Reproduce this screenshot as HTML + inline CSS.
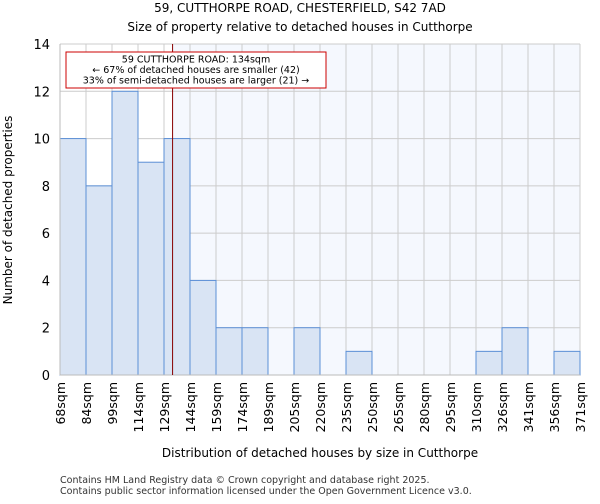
<!DOCTYPE html>
<html><head><meta charset="utf-8"><style>
body{margin:0;background:#fff;font-family:"DejaVu Sans","Liberation Sans",sans-serif;}
</style></head><body>
<svg id="chart" width="600" height="500" xmlns="http://www.w3.org/2000/svg" font-family="DejaVu Sans, Liberation Sans, sans-serif">
<text x="300" y="12" font-size="12" text-anchor="middle" fill="#000">59, CUTTHORPE ROAD, CHESTERFIELD, S42 7AD</text>
<text x="300" y="31" font-size="12" text-anchor="middle" fill="#000">Size of property relative to detached houses in Cutthorpe</text>
<g id="plot"></g>
<text x="320" y="457" font-size="12" text-anchor="middle">Distribution of detached houses by size in Cutthorpe</text>
<text transform="translate(12,210) rotate(-90)" font-size="12" text-anchor="middle">Number of detached properties</text>
<text x="60" y="483" font-size="9.5" fill="#333">Contains HM Land Registry data © Crown copyright and database right 2025.</text>
<text x="60" y="494" font-size="9.5" fill="#333">Contains public sector information licensed under the Open Government Licence v3.0.</text>
</svg>
<script>
const binLabels=["68sqm","84sqm","99sqm","114sqm","129sqm","144sqm","159sqm","174sqm","189sqm","205sqm","220sqm","235sqm","250sqm","265sqm","280sqm","295sqm","310sqm","326sqm","341sqm","356sqm","371sqm"];
const counts=[10,8,12,9,10,4,2,2,0,2,0,1,0,0,0,0,1,2,0,1];
const yTicks=[0,2,4,6,8,10,12,14];
const propertyIndex=4.33;
const NS="http://www.w3.org/2000/svg";
const L=60,R=580,T=44,B=375,yMax=14;
const n=counts.length,bw=(R-L)/n;
const xs=i=>L+i*bw, ys=v=>B-(v/yMax)*(B-T);
const g=document.getElementById('plot');
function mk(t,a){const e=document.createElementNS(NS,t);for(const k in a)e.setAttribute(k,a[k]);g.appendChild(e);return e;}
const lineX=xs(propertyIndex);
let e=mk('rect',{x:lineX,y:T,width:R-lineX,height:B-T,fill:'#f5f8fe'});


for(let i=0;i<=n;i++){e=mk('line',{x1:xs(i),x2:xs(i),y1:T,y2:B,stroke:'#cccccc','stroke-width':1});

}
yTicks.forEach(v=>{e=mk('line',{x1:L,x2:R,y1:ys(v),y2:ys(v),stroke:'#cccccc','stroke-width':1});


e=mk('text',{x:L-10,y:ys(v)+5,'font-size':13,'text-anchor':'end'});e.textContent=v;

});
counts.forEach((c,i)=>{if(c<=0)return;e=mk('rect',{x:xs(i),y:ys(c),width:bw,height:B-ys(c),fill:'#d9e4f4',stroke:'#5b8fd6','stroke-width':1});

});
binLabels.forEach((l,i)=>{e=mk('text',{transform:`translate(${xs(i)+5},382) rotate(-90)`,'font-size':12.5,'text-anchor':'end'});e.textContent=l;

});
e=mk('line',{x1:L,x2:L,y1:T,y2:B,stroke:'#bbb'});


e=mk('line',{x1:L,x2:R,y1:B,y2:B,stroke:'#bbb'});


e=mk('line',{x1:lineX,x2:lineX,y1:T,y2:B,stroke:'#880000','stroke-width':1});


e=mk('rect',{x:66,y:52,width:260,height:36,fill:'#fff',stroke:'#cc0000','stroke-width':1});


["59 CUTTHORPE ROAD: 134sqm","← 67% of detached houses are smaller (42)","33% of semi-detached houses are larger (21) →"].forEach((t,i)=>{
e=mk('text',{x:196,y:62.5+i*10.5,'font-size':9.5,'text-anchor':'middle',textLength:i==0?0:0});e.removeAttribute('textLength');e.textContent=t;

});
</script>
</body></html>
